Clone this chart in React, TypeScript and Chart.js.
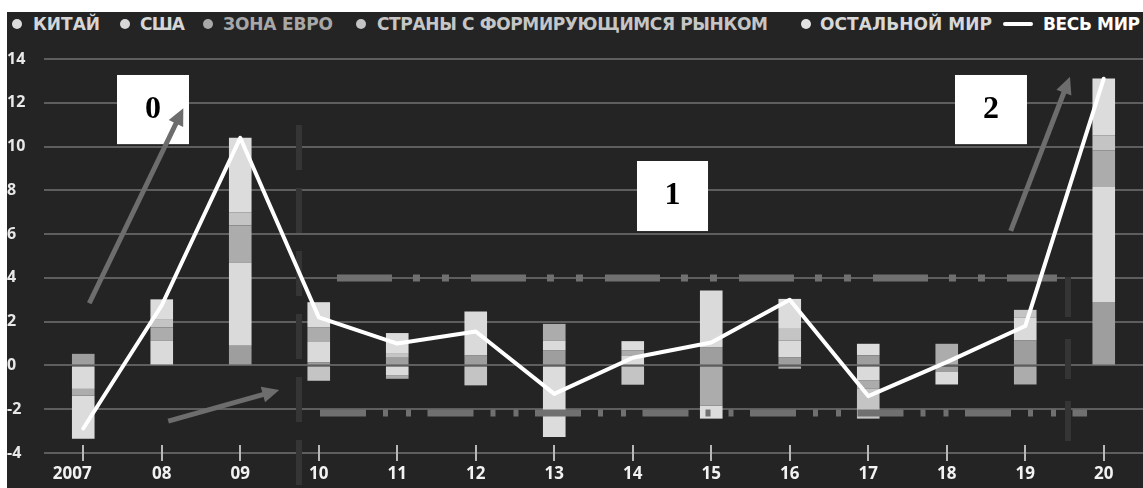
import React, { useEffect, useMemo, useRef } from "react";
import { Chart, registerables } from "chart.js";

Chart.register(...registerables);

// ---------------- data ----------------
const years = ["2007", "08", "09", "10", "11", "12", "13", "14", "15", "16", "17", "18", "19", "20"];
const china = [0.53, 0, 0.9, 0.15, 0.35, 0.46, 0.68, 0, 0.84, 0.38, 0.46, -0.3, 1.14, 2.9];
const usa = [-1.07, 1.14, 3.8, 0.92, -0.46, 2.01, 0.46, 0.46, 2.58, 0.76, -0.68, -0.57, 1.06, 5.25];
const euroArea = [-0.3, 0.6, 1.7, 0.68, -0.15, 0, 0.76, 0.22, -1.83, -0.15, -0.39, 0.99, -0.87, 1.68];
const emerging = [0, 0.38, 0.6, -0.7, 0.18, -0.91, 0, -0.88, 0, 0.53, -1.36, 0, 0.34, 0.68];
const restOfWorld = [-1.98, 0.9, 3.4, 1.14, 0.95, 0, -3.27, 0.43, -0.6, 1.37, 0.53, 0, 0, 2.6];
const world = [-2.88, 2.75, 10.4, 2.2, 1.0, 1.55, -1.3, 0.35, 1.05, 3.0, -1.4, 0.15, 1.8, 13.1];

const seriesNames = ["КИТАЙ", "США", "ЗОНА ЕВРО", "СТРАНЫ С ФОРМИРУЮЩИМСЯ РЫНКОМ", "ОСТАЛЬНОЙ МИР"];
const worldName = "ВЕСЬ МИР";
const seriesValues = [china, usa, euroArea, emerging, restOfWorld];
const annotationLabels = ["0", "1", "2"];

// ---------------- styles / annotation geometry (data units) ----------------
const barColors = ["#9e9e9e", "#dadada", "#acacac", "#c4c4c4", "#dcdcdc"];
const legendDotColors = ["#dcdcdc", "#d8d8d8", "#a9a9a9", "#c4c4c4", "#e2e2e2"];
const legendTextColors = ["#d6d6d6", "#d6d6d6", "#a8a8a8", "#c6c6c6", "#d8d8d8"];
const legendPlace = [
  { dot: 17, left: 33, right: 100 },
  { dot: 125, left: 140, right: 185 },
  { dot: 208, left: 223, right: 333 },
  { dot: 361, left: 377, right: 768 },
  { dot: 806, left: 820, right: 992 },
];
const worldLegend = { lineLeft: 1003, lineWidth: 30, left: 1043, right: 1140 };

const bandLines = [
  { from: 3.232, to: 12.404, value: 4, dash: [55, 21, 7, 22, 7, 22] },
  { from: 3.016, to: 12.787, value: -2.17, dash: [46, 17, 5, 18, 5, 16.5] },
];
const dividers = [
  { at: 2.748, top: 10.98, bottom: -5.6, dash: [45, 18] },
  { at: 12.545, top: 4.04, bottom: -3.73, dash: [40, 22] },
];
const arrows = [
  { x1: 0.077, y1: 2.84, x2: 1.275, y2: 11.75 },
  { x1: 1.083, y1: -2.54, x2: 2.497, y2: -1.12 },
  { x1: 11.815, y1: 6.15, x2: 12.57, y2: 13.19 },
];
const boxes = [
  { x1: 0.43, x2: 1.347, y1: 13.27, y2: 10.11 },
  { x1: 7.054, x2: 7.959, y1: 9.34, y2: 6.14 },
  { x1: 11.105, x2: 12.022, y1: 13.27, y2: 10.11 },
];

const W = 1143;
const H = 488;
const PANEL_LEFT = 7;
const PANEL_TOP = 12;
const CANVAS_LEFT = 3;
const CANVAS_TOP = 40;
const CANVAS_W = W - CANVAS_LEFT;
const CANVAS_H = H - CANVAS_TOP;
const FONT = '"Open Sans", "DejaVu Sans", sans-serif';
const LEGEND_FONT = '"DejaVu Sans", "Open Sans", sans-serif';

const tickMarksPlugin = {
  id: "tickMarks",
  afterDraw(chart: any) {
    const { ctx, chartArea, scales } = chart;
    const xs = scales.x;
    ctx.save();
    ctx.strokeStyle = "#b8b8b8";
    ctx.lineWidth = 2;
    years.forEach((_, i) => {
      const x = Math.round(xs.getPixelForTick(i));
      ctx.beginPath();
      ctx.moveTo(x, chartArea.bottom - 8);
      ctx.lineTo(x, chartArea.bottom + 8);
      ctx.stroke();
    });
    ctx.restore();
  },
};

const overlayPlugin = {
  id: "overlayNotes",
  afterDraw(chart: any) {
    const { ctx, scales } = chart;
    const xs = scales.x2;
    const ys = scales.y;
    ctx.save();
    boxes.forEach((b, i) => {
      const l = xs.getPixelForValue(b.x1);
      const r = xs.getPixelForValue(b.x2);
      const t = ys.getPixelForValue(b.y1);
      const bt = ys.getPixelForValue(b.y2);
      ctx.fillStyle = "#ffffff";
      ctx.fillRect(l, t, r - l, bt - t);
      ctx.fillStyle = "#000000";
      ctx.font = 'bold 32px "Liberation Serif", "DejaVu Serif", serif';
      ctx.textAlign = "center";
      ctx.textBaseline = "alphabetic";
      ctx.fillText(annotationLabels[i], (l + r) / 2, t + (bt - t) * 0.62);
    });
    arrows.forEach((a) => {
      const x1 = xs.getPixelForValue(a.x1);
      const y1 = ys.getPixelForValue(a.y1);
      const x2 = xs.getPixelForValue(a.x2);
      const y2 = ys.getPixelForValue(a.y2);
      const len = Math.hypot(x2 - x1, y2 - y1);
      const ux = (x2 - x1) / len;
      const uy = (y2 - y1) / len;
      const head = 17;
      const half = 8;
      ctx.strokeStyle = "#6d6d6d";
      ctx.fillStyle = "#6d6d6d";
      ctx.lineWidth = 5;
      ctx.lineCap = "butt";
      ctx.beginPath();
      ctx.moveTo(x1, y1);
      ctx.lineTo(x2 - ux * head * 0.9, y2 - uy * head * 0.9);
      ctx.stroke();
      const bx = x2 - ux * head;
      const by = y2 - uy * head;
      ctx.beginPath();
      ctx.moveTo(x2, y2);
      ctx.lineTo(bx - uy * half, by + ux * half);
      ctx.lineTo(bx + uy * half, by - ux * half);
      ctx.closePath();
      ctx.fill();
    });
    ctx.restore();
  },
};

function Legend() {
  const items = useMemo(() => {
    const c = document.createElement("canvas").getContext("2d") as CanvasRenderingContext2D;
    const fit = (text: string, weight: number, left: number, right: number) => {
      c.font = `${weight} 17px ${LEGEND_FONT}`;
      const w = c.measureText(text).width;
      return (right - left - w) / Math.max(1, text.length - 1);
    };
    const regions = seriesNames.map((name, i) => ({
      name,
      ...legendPlace[i],
      ls: fit(name, 700, legendPlace[i].left, legendPlace[i].right),
    }));
    const worldLs = fit(worldName, 700, worldLegend.left, worldLegend.right);
    return { regions, worldLs };
  }, []);

  const textStyle = (left: number, ls: number, color: string): React.CSSProperties => ({
    position: "absolute",
    left,
    top: 16,
    font: `700 17px ${LEGEND_FONT}`,
    lineHeight: "17px",
    letterSpacing: `${ls}px`,
    color,
    whiteSpace: "nowrap",
  });

  return (
    <>
      {items.regions.map((it, i) => (
        <React.Fragment key={it.name}>
          <div
            style={{
              position: "absolute",
              left: it.dot - 5,
              top: 19,
              width: 10,
              height: 10,
              borderRadius: "50%",
              background: legendDotColors[i],
            }}
          />
          <div style={textStyle(it.left, it.ls, legendTextColors[i])}>{it.name}</div>
        </React.Fragment>
      ))}
      <div
        style={{
          position: "absolute",
          left: worldLegend.lineLeft,
          top: 22,
          width: worldLegend.lineWidth,
          height: 4,
          background: "#ffffff",
          borderRadius: 2,
        }}
      />
      <div style={textStyle(worldLegend.left, items.worldLs, "#ffffff")}>{worldName}</div>
    </>
  );
}

export default function App() {
  const canvasRef = useRef<HTMLCanvasElement | null>(null);

  useEffect(() => {
    document.body.style.margin = "0";
    const canvas = canvasRef.current;
    if (!canvas) return;

    const barSets = seriesValues.map((vals, i) => ({
      type: "bar" as const,
      label: seriesNames[i],
      data: vals,
      backgroundColor: barColors[i],
      borderWidth: 0,
      barPercentage: 0.288,
      categoryPercentage: 1,
      grouped: false,
      xAxisID: "x",
      yAxisID: "y",
      stack: "regions",
      order: 3,
    }));

    const bandSets = bandLines.map((b, i) => ({
      type: "line" as const,
      label: "band" + i,
      data: [
        { x: b.from, y: b.value },
        { x: b.to, y: b.value },
      ],
      xAxisID: "x2",
      yAxisID: "y",
      borderColor: "#707070",
      borderWidth: 7,
      borderDash: b.dash,
      borderCapStyle: "butt" as const,
      pointRadius: 0,
      tension: 0,
      fill: false,
      clip: false as any,
      stack: "band" + i,
      order: 2,
    }));

    const dividerSets = dividers.map((d, i) => ({
      type: "line" as const,
      label: "divider" + i,
      data: [
        { x: d.at, y: d.top },
        { x: d.at, y: d.bottom },
      ],
      xAxisID: "x2",
      yAxisID: "y",
      borderColor: "#353535",
      borderWidth: 6,
      borderDash: d.dash,
      borderCapStyle: "butt" as const,
      pointRadius: 0,
      tension: 0,
      fill: false,
      clip: false as any,
      stack: "divider" + i,
      order: 4,
    }));

    const worldSet = {
      type: "line" as const,
      label: worldName,
      data: world,
      xAxisID: "x",
      yAxisID: "y",
      borderColor: "#ffffff",
      borderWidth: 4,
      borderJoinStyle: "round" as const,
      borderCapStyle: "round" as const,
      pointRadius: 0,
      tension: 0,
      fill: false,
      clip: false as any,
      stack: "world",
      order: 0,
    };

    const chart = new Chart(canvas, {
      type: "bar",
      data: {
        labels: years,
        datasets: [...barSets, ...dividerSets, ...bandSets, worldSet] as any,
      },
      options: {
        animation: false,
        responsive: false,
        events: [],
        layout: { padding: { left: 4, top: 19, right: 0, bottom: 0 } },
        plugins: {
          legend: { display: false },
          tooltip: { enabled: false },
        },
        scales: {
          x: {
            type: "category",
            stacked: true,
            offset: true,
            grid: { display: false, drawTicks: false },
            border: { display: false },
            ticks: {
              color: "#f2f2f2",
              font: { family: FONT, size: 17, weight: "bold" },
              padding: 11,
              maxRotation: 0,
              autoSkip: false,
              // the first (full-year) label sits slightly left of its tick in the original
              callback: (_v: any, i: number) => (i === 0 ? years[i] + "     " : years[i]),
            },
            afterFit: (s: any) => {
              s.height = 35;
            },
          },
          x2: {
            type: "linear",
            display: false,
            offset: false,
            min: -0.5,
            max: 13.5,
            grid: { offset: false },
          },
          y: {
            stacked: true,
            min: -4,
            max: 14,
            grid: { color: "#5e5e5e", lineWidth: 2, drawTicks: false },
            border: { display: false },
            ticks: {
              stepSize: 2,
              color: "#e8e8e8",
              font: { family: FONT, size: 16, weight: "bold" },
              crossAlign: "far",
              padding: 0,
            },
            afterFit: (s: any) => {
              s.width = 37;
            },
          },
        } as any,
      },
      plugins: [tickMarksPlugin, overlayPlugin],
    });

    return () => chart.destroy();
  }, []);

  return (
    <div style={{ position: "relative", width: W, height: H, background: "#ffffff", overflow: "hidden" }}>
      <style>{"body{margin:0;}"}</style>
      <div
        style={{
          position: "absolute",
          left: PANEL_LEFT,
          top: PANEL_TOP,
          width: W - PANEL_LEFT,
          height: H - PANEL_TOP,
          background: "#242424",
          overflow: "hidden",
        }}
      >
        <canvas
          ref={canvasRef}
          width={CANVAS_W}
          height={CANVAS_H}
          style={{
            position: "absolute",
            left: CANVAS_LEFT - PANEL_LEFT,
            top: CANVAS_TOP - PANEL_TOP,
            width: CANVAS_W,
            height: CANVAS_H,
          }}
        />
      </div>
      <Legend />
    </div>
  );
}
